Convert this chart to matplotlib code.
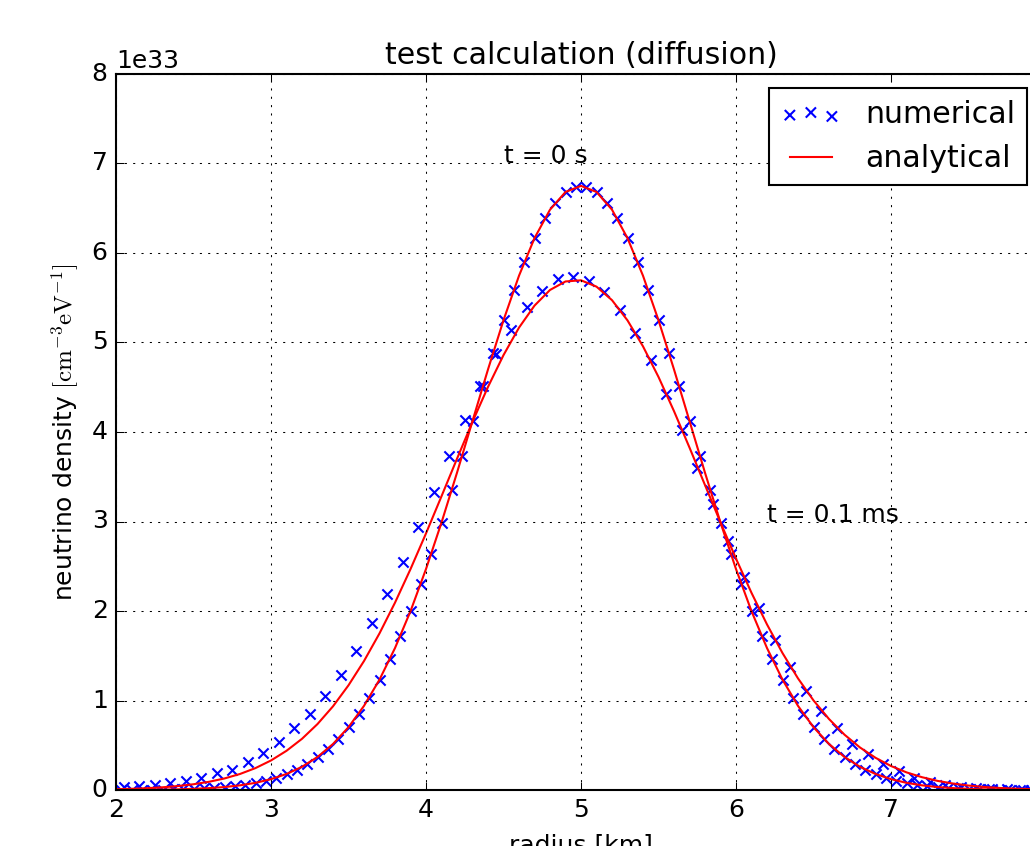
import matplotlib
matplotlib.use("Agg")
import matplotlib.pyplot as plt
import numpy as np

# numerical solution, t = 0 s (finer grid)
x_num_0 = [2.033, 2.100, 2.167, 2.233, 2.300, 2.367, 2.433, 2.500, 2.567, 2.633,
           2.700, 2.767, 2.833, 2.900, 2.967, 3.033, 3.100, 3.167, 3.233, 3.300,
           3.367, 3.433, 3.500, 3.567, 3.633, 3.700, 3.767, 3.833, 3.900, 3.967,
           4.033, 4.100, 4.167, 4.233, 4.300, 4.367, 4.433, 4.500, 4.567, 4.633,
           4.700, 4.767, 4.833, 4.900, 4.967, 5.033, 5.100, 5.167, 5.233, 5.300,
           5.367, 5.433, 5.500, 5.567, 5.633, 5.700, 5.767, 5.833, 5.900, 5.967,
           6.033, 6.100, 6.167, 6.233, 6.300, 6.367, 6.433, 6.500, 6.567, 6.633,
           6.700, 6.767, 6.833, 6.900, 6.967, 7.033, 7.100, 7.167, 7.233, 7.300,
           7.367, 7.433, 7.500, 7.567, 7.633, 7.700, 7.767, 7.833, 7.900, 7.967]
y_num_0 = [0.0010, 0.0014, 0.0021, 0.0030, 0.0044, 0.0063, 0.0089, 0.013, 0.017, 0.024,
           0.033, 0.045, 0.060, 0.080, 0.105, 0.138, 0.179, 0.229, 0.292, 0.369,
           0.461, 0.571, 0.702, 0.854, 1.031, 1.233, 1.461, 1.716, 1.998, 2.306,
           2.637, 2.988, 3.357, 3.737, 4.123, 4.509, 4.886, 5.249, 5.588, 5.896,
           6.166, 6.390, 6.564, 6.682, 6.742, 6.742, 6.682, 6.564, 6.390, 6.166,
           5.896, 5.588, 5.249, 4.886, 4.509, 4.123, 3.737, 3.357, 2.988, 2.637,
           2.306, 1.998, 1.716, 1.461, 1.233, 1.031, 0.854, 0.702, 0.571, 0.461,
           0.369, 0.292, 0.229, 0.179, 0.138, 0.105, 0.080, 0.060, 0.045, 0.033,
           0.024, 0.017, 0.013, 0.0089, 0.0063, 0.0044, 0.0030, 0.0021, 0.0014, 0.0010]

# numerical solution, t = 0.1 ms
x_num_1 = [2.05, 2.15, 2.25, 2.35, 2.45, 2.55, 2.65, 2.75, 2.85, 2.95,
           3.05, 3.15, 3.25, 3.35, 3.45, 3.55, 3.65, 3.75, 3.85, 3.95,
           4.05, 4.15, 4.25, 4.35, 4.45, 4.55, 4.65, 4.75, 4.85, 4.95,
           5.05, 5.15, 5.25, 5.35, 5.45, 5.55, 5.65, 5.75, 5.85, 5.95,
           6.05, 6.15, 6.25, 6.35, 6.45, 6.55, 6.65, 6.75, 6.85, 6.95,
           7.05, 7.15, 7.25, 7.35, 7.45, 7.55, 7.65, 7.75, 7.85, 7.95]
y_num_1 = [0.037, 0.045, 0.060, 0.074, 0.100, 0.138, 0.186, 0.228, 0.309, 0.410,
           0.531, 0.689, 0.845, 1.050, 1.285, 1.553, 1.870, 2.190, 2.550, 2.940,
           3.330, 3.730, 4.130, 4.510, 4.870, 5.140, 5.400, 5.580, 5.705, 5.735,
           5.687, 5.568, 5.363, 5.110, 4.800, 4.425, 4.020, 3.600, 3.190, 2.780,
           2.385, 2.030, 1.680, 1.370, 1.110, 0.886, 0.689, 0.516, 0.400, 0.285,
           0.216, 0.135, 0.093, 0.056, 0.030, 0.019, 0.012, 0.008, 0.005, 0.003]

# analytical solutions
x_ana = [2.0, 2.1, 2.2, 2.3, 2.4, 2.5, 2.6, 2.7, 2.8, 2.9,
         3.0, 3.1, 3.2, 3.3, 3.4, 3.5, 3.6, 3.7, 3.8, 3.9,
         4.0, 4.1, 4.2, 4.3, 4.4, 4.5, 4.6, 4.7, 4.8, 4.9,
         5.0, 5.1, 5.2, 5.3, 5.4, 5.5, 5.6, 5.7, 5.8, 5.9,
         6.0, 6.1, 6.2, 6.3, 6.4, 6.5, 6.6, 6.7, 6.8, 6.9,
         7.0, 7.1, 7.2, 7.3, 7.4, 7.5, 7.6, 7.7, 7.8, 7.9, 8.0]
y_ana_0 = [0.0008, 0.0014, 0.0025, 0.0044, 0.0075, 0.013, 0.021, 0.033, 0.052, 0.080,
           0.121, 0.179, 0.259, 0.369, 0.514, 0.702, 0.940, 1.233, 1.586, 1.998,
           2.469, 2.988, 3.545, 4.123, 4.699, 5.249, 5.746, 6.166, 6.484, 6.682,
           6.750, 6.682, 6.484, 6.166, 5.746, 5.249, 4.699, 4.123, 3.545, 2.988,
           2.469, 1.998, 1.586, 1.233, 0.940, 0.702, 0.514, 0.369, 0.259, 0.179,
           0.121, 0.080, 0.052, 0.033, 0.021, 0.013, 0.0075, 0.0044, 0.0025, 0.0014, 0.0008]
y_ana_1 = [0.0087, 0.0133, 0.0202, 0.0302, 0.0443, 0.0643, 0.0918, 0.129, 0.179, 0.245,
           0.330, 0.438, 0.572, 0.737, 0.935, 1.170, 1.441, 1.750, 2.093, 2.468,
           2.867, 3.282, 3.701, 4.114, 4.504, 4.859, 5.166, 5.412, 5.587, 5.682,
           5.695, 5.624, 5.473, 5.247, 4.957, 4.615, 4.233, 3.826, 3.407, 2.990,
           2.585, 2.203, 1.850, 1.530, 1.247, 1.001, 0.793, 0.618, 0.475, 0.360,
           0.268, 0.197, 0.143, 0.102, 0.072, 0.0497, 0.0339, 0.0228, 0.0151, 0.0099, 0.0064]

unit = 1e33  # densities above are in units of 1e33

plt.style.use("classic")

fig = plt.figure(figsize=(1030 / 150, 846 / 150), dpi=150, facecolor="white")
ax = fig.add_axes([116 / 1030, 56 / 846, 930 / 1030, 716 / 846])

ax.scatter(x_num_0, np.array(y_num_0) * unit, marker="x", c="b", s=24, label="numerical")
ax.scatter(x_num_1, np.array(y_num_1) * unit, marker="x", c="b", s=24)
ax.plot(x_ana, np.array(y_ana_0) * unit, "r-", label="analytical")
ax.plot(x_ana, np.array(y_ana_1) * unit, "r-")

ax.text(4.5, 7.0e33, "t = 0 s")
ax.text(6.2, 3.0e33, "t = 0.1 ms")

ax.set_xlim(2, 8)
ax.set_ylim(0, 8e33)
ax.grid(True)

ax.set_xlabel("radius [km]")
ax.set_ylabel(r"neutrino density $[\mathrm{cm^{-3}eV^{-1}}]$")
ax.set_title("test calculation (diffusion)")
# legend box sits just inside the right edge of the picture
ax.legend(loc="upper right", bbox_to_anchor=(1027 / 1030, 1 - 88 / 846),
          bbox_transform=fig.transFigure, borderaxespad=0)

fig.savefig("out.png", dpi=150, facecolor="white")
